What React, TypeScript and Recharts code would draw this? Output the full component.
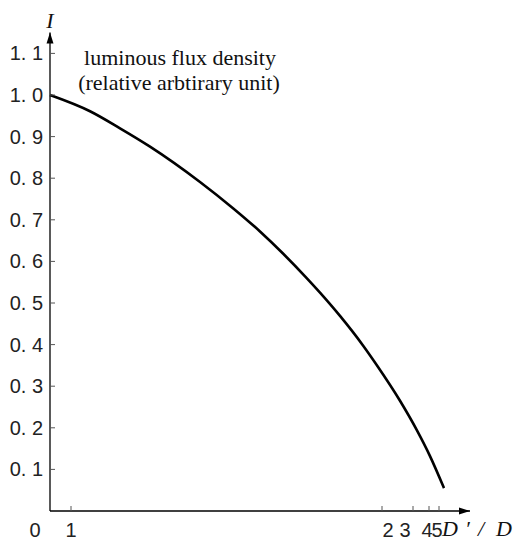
import React from 'react';
import { LineChart, Line, XAxis, YAxis, ReferenceDot } from 'recharts';

// curve position along the (non-linear) D'/D axis, and relative intensity I
const curvePos = [0, 40, 70, 100, 150, 183, 210, 233, 256.7, 270, 290, 313, 326.7, 350, 366.7, 380, 394];
const curveI = [1.0, 0.961, 0.92, 0.876, 0.791, 0.728, 0.672, 0.619, 0.56, 0.525, 0.469, 0.398, 0.351, 0.265, 0.195, 0.132, 0.055];

const xTickPositions = [0, 21, 332, 363, 379, 389];
const xTickLabels = ['0', '1', '2', '3', '4', '5'];
const yTicks = [0.1, 0.2, 0.3, 0.4, 0.5, 0.6, 0.7, 0.8, 0.9, 1.0, 1.1];

const annotationLines = ['luminous flux density', '(relative arbtirary unit)'];

// label nudges (style only)
const xLabelDx = [-15, 0, 6, -8, -2, -2];

const data = curvePos.map((p, i) => ({ p, v: curveI[i] }));

const W = 518;
const H = 541;
const SANS = 'Liberation Sans, Arial, sans-serif';
const SERIF = 'Liberation Serif, Times New Roman, serif';

const XTick = (props: any) => {
  const { x, y, payload } = props;
  const idx = xTickPositions.indexOf(payload.value);
  return (
    <g>
      {payload.value !== 0 && <line x1={x} y1={y} x2={x} y2={y - 5} stroke="#555" strokeWidth={1} />}
      <text x={x + (xLabelDx[idx] || 0)} y={y + 26} textAnchor="middle" style={{ fontFamily: SANS, fontSize: 20 }} fill="#222">
        {xTickLabels[idx]}
      </text>
    </g>
  );
};

const YTick = (props: any) => {
  const { x, y, payload } = props;
  return (
    <g>
      <line x1={x} y1={y} x2={x + 5} y2={y} stroke="#555" strokeWidth={1} />
      <text x={x - 7} y={y + 7} textAnchor="end" style={{ fontFamily: SANS, fontSize: 20 }} fill="#222">
        {Number(payload.value).toFixed(1).replace('.', '. ')}
      </text>
    </g>
  );
};

const ArrowRight = (props: any) => {
  const { cx, cy } = props;
  return <path d={`M${cx},${cy} L${cx - 11},${cy - 3.5} L${cx - 11},${cy + 3.5} Z`} fill="#000" />;
};
const ArrowUp = (props: any) => {
  const { cx, cy } = props;
  return <path d={`M${cx},${cy} L${cx - 3.5},${cy + 11} L${cx + 3.5},${cy + 11} Z`} fill="#000" />;
};

export default function App() {
  return (
    <div style={{ position: 'absolute', left: 0, top: 0, width: W, height: H, background: '#fff' }}>
      <LineChart width={W} height={H} data={data} margin={{ top: 32.6, right: 48, bottom: 29, left: 49 }}>
        <XAxis
          type="number"
          dataKey="p"
          domain={[0, 420]}
          ticks={xTickPositions}
          interval={0}
          height={1}
          tickSize={0}
          tickMargin={0}
          tickLine={false}
          axisLine={{ stroke: '#000', strokeWidth: 1.3 }}
          tick={<XTick />}
        />
        <YAxis
          type="number"
          domain={[0, 1.15]}
          ticks={yTicks}
          interval={0}
          width={1}
          tickSize={0}
          tickMargin={0}
          tickLine={false}
          axisLine={{ stroke: '#000', strokeWidth: 1.3 }}
          tick={<YTick />}
        />
        <Line
          type="monotone"
          dataKey="v"
          stroke="#000"
          strokeWidth={2.6}
          dot={false}
          isAnimationActive={false}
        />
        <ReferenceDot x={420} y={0} r={0} shape={<ArrowRight />} ifOverflow="visible" />
        <ReferenceDot x={0} y={1.15} r={0} shape={<ArrowUp />} ifOverflow="visible" />
      </LineChart>
      <svg width={W} height={H} style={{ position: 'absolute', left: 0, top: 0, pointerEvents: 'none' }}>
        <text x={50} y={28} textAnchor="middle" style={{ fontFamily: SERIF, fontStyle: 'italic', fontSize: 22 }} fill="#111">I</text>
        <text x={180} y={65} textAnchor="middle" style={{ fontFamily: SERIF, fontSize: 22 }} fill="#111">{annotationLines[0]}</text>
        <text x={179} y={90} textAnchor="middle" style={{ fontFamily: SERIF, fontSize: 22 }} fill="#111">{annotationLines[1]}</text>
        <text y={536} style={{ fontFamily: SERIF, fontStyle: 'italic', fontSize: 22 }} fill="#111">
          <tspan x={442}>D</tspan>
          <tspan x={465}>′</tspan>
          <tspan x={478}>/</tspan>
          <tspan x={496}>D</tspan>
        </text>
      </svg>
    </div>
  );
}
